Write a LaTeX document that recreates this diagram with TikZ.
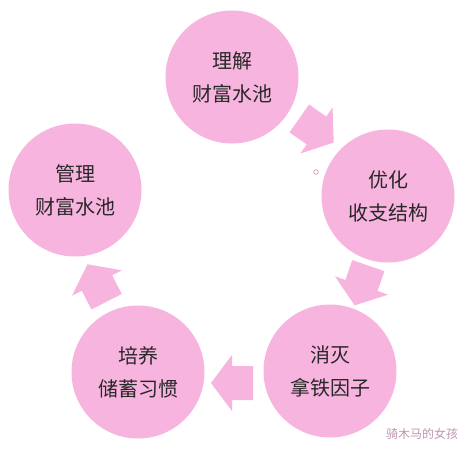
\documentclass[tikz,border=0pt]{standalone}
\usepackage{fontspec}
\newfontfamily\cjk{Noto Sans CJK SC}
\definecolor{pinkfill}{RGB}{247,180,222}
\definecolor{txtcol}{RGB}{40,40,40}
\definecolor{wmcol}{RGB}{190,150,175}
\begin{document}
\begin{tikzpicture}[x=1pt,y=-1pt,
  bubble/.style={circle,fill=pinkfill,minimum size=133pt,inner sep=0pt,
    font=\cjk\fontsize{20}{33}\selectfont,text=txtcol,align=center},
  blockarr/.style={fill=pinkfill}]
\useasboundingbox (0,0) rectangle (466,448);
\fill[white] (0,0) rectangle (466,448);
\node[bubble] (c1) at (232,77) {理解\\财富水池};
\node[bubble] (c2) at (388,196) {优化\\收支结构};
\node[bubble] (c3) at (330,371) {消灭\\拿铁因子};
\node[bubble] (c4) at (138,372) {培养\\储蓄习惯};
\node[bubble] (c5) at (75,190) {管理\\财富水池};
\foreach \px/\py/\a in {316.5/130.5/-35, 361.5/285.5/-109, 232/383/180, 97/283/117}{
  \begin{scope}[shift={(\px,\py)},rotate=\a]
    \fill[blockarr] (-21pt,-17pt) -- (0pt,-17pt) -- (0pt,-28pt) -- (21pt,0pt)
      -- (0pt,28pt) -- (0pt,17pt) -- (-21pt,17pt) -- cycle;
  \end{scope}
}
\draw[wmcol,line width=0.6pt] (316,172) circle (2.3pt);
\node[font=\cjk\fontsize{12}{12}\selectfont,text=wmcol,inner sep=0pt] (wm) at (422,434) {骑木马的女孩};
\end{tikzpicture}
\end{document}
